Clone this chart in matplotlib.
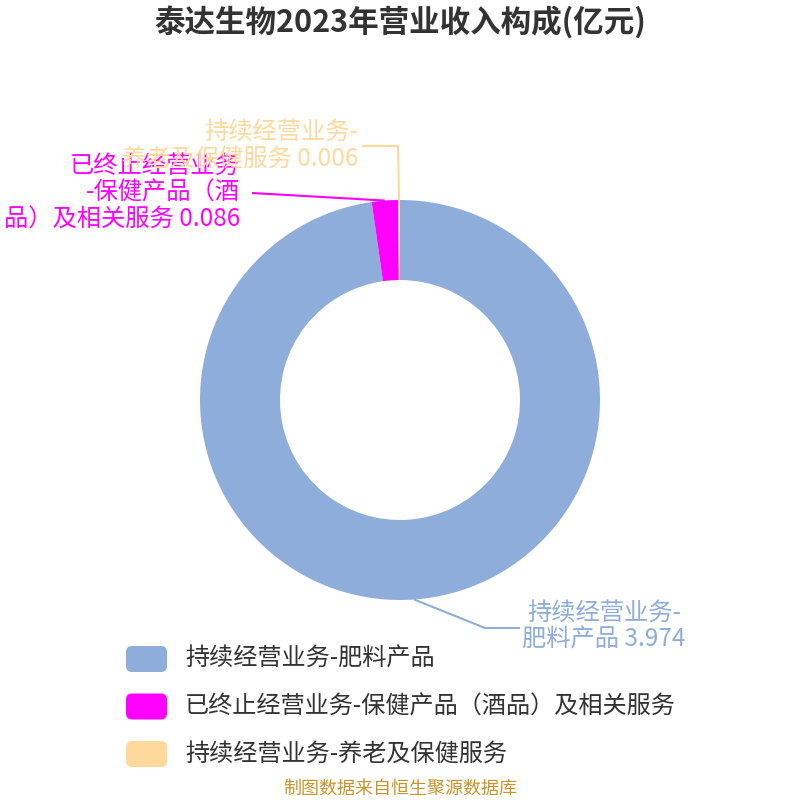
import matplotlib
matplotlib.use('Agg')
import numpy as np
import matplotlib.pyplot as plt
from matplotlib.patches import FancyBboxPatch

plt.rcParams['font.family'] = ['Noto Sans CJK SC', 'DejaVu Sans']

title = '泰达生物2023年营业收入构成(亿元)'
categories = ['持续经营业务-肥料产品',
              '已终止经营业务-保健产品（酒品）及相关服务',
              '持续经营业务-养老及保健服务']
pie_labels = ['持续经营业务-\n肥料产品',
              '已终止经营业务\n-保健产品（酒\n品）及相关服务',
              '持续经营业务-\n养老及保健服务']
values = [3.974, 0.086, 0.006]
colors = ['#8EADDB', '#FF00FF', '#FFD99C']
source = '制图数据来自恒生聚源数据库'

fig = plt.figure(figsize=(8, 8), dpi=100)
ax = fig.add_axes([0, 0, 1, 1])
ax.set_xlim(0, 800)
ax.set_ylim(0, 800)
ax.set_aspect('equal')
ax.axis('off')

def py(y):
    # pixel row -> data y
    return 800 - y

cx, cy, R = 400, py(400), 200
wedges, _ = ax.pie(values, colors=colors, startangle=90, counterclock=False,
                   radius=R, center=(cx, cy),
                   wedgeprops=dict(width=80, edgecolor='none'))
ax.set_xlim(0, 800)
ax.set_ylim(0, 800)

# label layout: (elbow points in px, text x, text y, ha)
layout = [
    dict(path=[(485, 628), (520, 628)], tx=604, ty=626, ha='center'),
    dict(path=[(252, 193)], tx=240, ty=193, ha='right'),
    dict(path=[(398, 146), (362, 146)], tx=358, ty=145, ha='right'),
]

for w, lab, v, c, lay in zip(wedges, pie_labels, values, colors, layout):
    mid = np.deg2rad((w.theta1 + w.theta2) / 2)
    ax_x = cx + R * np.cos(mid)
    ax_y = cy + R * np.sin(mid)
    xs = [ax_x] + [p[0] for p in lay['path']]
    ys = [ax_y] + [py(p[1]) for p in lay['path']]
    ax.plot(xs, ys, color=c, lw=1.5, solid_capstyle='butt')
    ax.text(lay['tx'], py(lay['ty']), f'{lab} {v:.3f}', color=c, fontsize=17.5,
            ha=lay['ha'], va='center', linespacing=1.05,
            multialignment='right' if lay['ha'] == 'right' else 'center')

ax.text(400, py(22), title, fontsize=22, fontweight='bold', color='#333333',
        ha='center', va='center')

# legend
for i, (name, c) in enumerate(zip(categories, colors)):
    y = 659 + i * 47.5
    ax.add_patch(FancyBboxPatch((126, py(y) - 13), 41, 26,
                                boxstyle='round,pad=0,rounding_size=6',
                                facecolor=c, edgecolor='none'))
    ax.text(185, py(y), name, fontsize=17.4, color='#333333', ha='left', va='center')

ax.text(400, py(789), source, fontsize=13, color='#C9952B', ha='center', va='center')

fig.savefig('out.png', dpi=100)
